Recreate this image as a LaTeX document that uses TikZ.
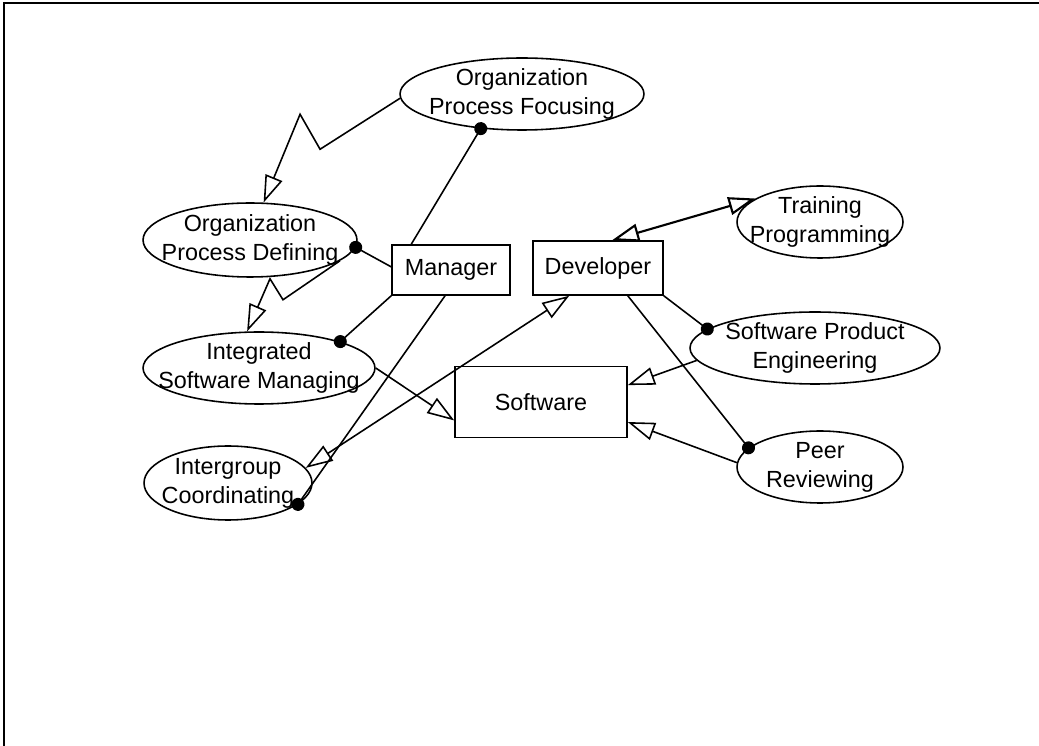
\documentclass[tikz,border=0pt]{standalone}
\usepackage{fontspec}
\setmainfont{Liberation Sans}
\usetikzlibrary{arrows.meta,shapes.geometric}
\tikzset{
	usecase/.style={draw, ellipse, inner sep=-1cm, align=center},
	actor/.style={draw, rectangle, inner sep=0pt, align=center},
	gen/.style={-{Triangle[open, length=0.54cm, width=0.36cm]}},
	gentwo/.style={{Triangle[open, length=0.54cm, width=0.36cm]}-{Triangle[open, length=0.54cm, width=0.36cm]}},
	assoc/.style={-{Circle[length=0.26cm]}, shorten >=-0.13cm}
}

\begin{document}
\begin{tikzpicture}[x=0.02cm, y=-0.02cm, line width=0.9pt, font=\fontsize{13.3}{16.5}\selectfont]
		%%%%% START %%%%%
		
		\useasboundingbox (0,0) rectangle (1039,746);
		\draw[line width=1.5pt] (4,746) -- (4,3) -- (1039,3);
		
		\node[usecase, minimum width=4.88cm, minimum height=1.44cm] (opf) at (522,94) {Organization\\Process Focusing};
		\node[usecase, minimum width=4.28cm, minimum height=1.48cm] (opd) at (250,240) {Organization\\Process Defining};
		\node[usecase, minimum width=4.64cm, minimum height=1.44cm] (ism) at (259,368) {Integrated\\Software Managing};
		\node[usecase, minimum width=3.36cm, minimum height=1.48cm] (igc) at (228,483) {Intergroup\\Coordinating};
		
		\node[usecase, minimum width=3.32cm, minimum height=1.44cm] (trp) at (820,222) {Training\\Programming};
		\node[usecase, minimum width=5.00cm, minimum height=1.44cm] (spe) at (815,348) {Software Product\\Engineering};
		\node[usecase, minimum width=3.32cm, minimum height=1.44cm] (prv) at (820,467) {Peer\\Reviewing};
		
		\node[actor, minimum width=2.36cm, minimum height=1.00cm] (mgr) at (451,270) {Manager};
		\node[actor, minimum width=2.60cm, minimum height=1.08cm] (dev) at (598,268) {Developer};
		\node[actor, minimum width=3.44cm, minimum height=1.42cm] (sw) at (541,402) {Software};
		
		\draw[gen] (opf.182) -- ++(-80,51) -- ++(-20,-35) -- (opd.70);
		\draw[gen] (opd.347) -- ++(-57,39) -- ++(-13,-21) -- (ism.108);
		\draw[gen] (ism.east) -- (sw.192);
		\draw[gen] (spe.186) -- (sw.11);
		\draw[gen] (prv.177) -- (sw.347);
		
		\draw[gentwo] (dev.224) -- (igc.11);
		\draw[gentwo, line width=1.2pt] (dev.63) -- (trp.160);
		
		\draw[assoc] (mgr.147) -- (opf.220);
		\draw[assoc] (mgr.177) -- (opd.356);
		\draw[assoc] (mgr.south west) -- (ism.18);
		\draw[assoc] (mgr.257) -- (igc.343);
		\draw[assoc] (dev.south east) -- (spe.170);
		\draw[assoc] (dev.317) -- (prv.165);
		
		%%%%% END %%%%%
\end{tikzpicture}
\end{document}
